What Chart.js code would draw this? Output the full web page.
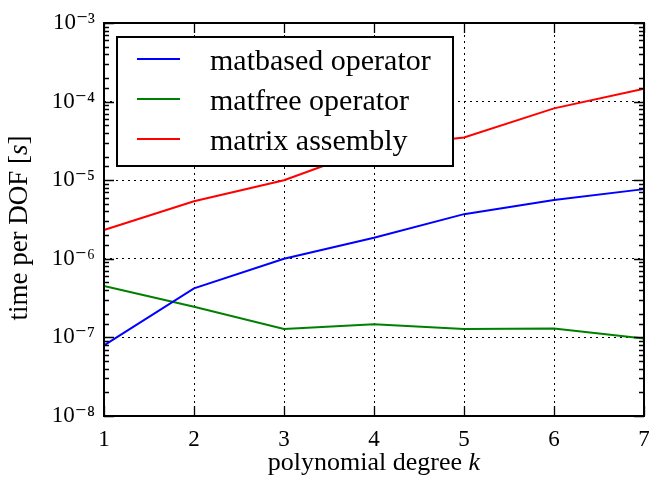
<!DOCTYPE html>
<html><head><meta charset="utf-8">
<script src="https://cdn.jsdelivr.net/npm/chart.js@4"></script>
<style>html,body{margin:0;padding:0;background:#fff}</style>
</head><body>
<canvas id="c" width="649" height="480"></canvas>
<script>
const degrees = ['1', '2', '3', '4', '5', '6', '7'];
const matbased = [7.9e-8, 4.2e-7, 1.0e-6, 1.85e-6, 3.7e-6, 5.6e-6, 7.7e-6];
const matfree = [4.5e-7, 2.45e-7, 1.28e-7, 1.47e-7, 1.28e-7, 1.3e-7, 9.7e-8];
const assembly = [2.33e-6, 5.4e-6, 1.0e-5, 2.6e-5, 3.5e-5, 8.2e-5, 1.46e-4];
const seriesNames = ['matbased operator', 'matfree operator', 'matrix assembly'];
const seriesColors = ['#0000ff', '#008000', '#ff0000'];
const yMin = 1e-8, yMax = 1e-3;
const xTitleParts = [['polynomial degree ', false], ['k', true]];
const yTitleParts = [['time per DOF [', false], ['s', true], [']', false]];

const FONT = '"Liberation Serif", "DejaVu Serif", serif';
const SUP = {'-': '\u207B', '0': '\u2070', '1': '\u00B9', '2': '\u00B2', '3': '\u00B3', '4': '\u2074', '5': '\u2075', '6': '\u2076', '7': '\u2077', '8': '\u2078', '9': '\u2079'};
function sup(n) { return String(n).split('').map(c => SUP[c]).join(''); }
function isDecade(v) { const e = Math.log10(v); return Math.abs(e - Math.round(e)) < 1e-6; }

function drawParts(ctx, parts, size) {
  let w = 0;
  parts.forEach(p => { ctx.font = (p[1] ? 'italic ' : '') + size + 'px ' + FONT; w += ctx.measureText(p[0]).width; });
  let x = -w / 2;
  parts.forEach(p => { ctx.font = (p[1] ? 'italic ' : '') + size + 'px ' + FONT; ctx.fillText(p[0], x, 0); x += ctx.measureText(p[0]).width; });
}

const framePlugin = {
  id: 'frame',
  afterDraw(chart) {
    const ctx = chart.ctx, a = chart.chartArea;
    const xs = chart.scales.x, ys = chart.scales.y;
    ctx.save();
    ctx.strokeStyle = '#000';
    // inward ticks on all four sides
    ctx.lineWidth = 1.3;
    ctx.beginPath();
    ys.ticks.forEach(t => {
      const p = Math.round(ys.getPixelForValue(t.value)) + 0.5;
      const len = isDecade(t.value) ? 10 : 5;
      ctx.moveTo(a.left, p); ctx.lineTo(a.left + len, p);
      ctx.moveTo(a.right, p); ctx.lineTo(a.right - len, p);
    });
    degrees.forEach((d, i) => {
      const p = Math.round(xs.getPixelForValue(i)) + 0.5;
      ctx.moveTo(p, a.bottom); ctx.lineTo(p, a.bottom - 10);
      ctx.moveTo(p, a.top); ctx.lineTo(p, a.top + 10);
    });
    ctx.stroke();
    // frame
    ctx.lineWidth = 2;
    ctx.strokeRect(a.left, a.top, a.right - a.left, a.bottom - a.top);
    // legend
    const lx = 117, ly = 37, lw = 336, lh = 129;
    ctx.fillStyle = '#fff';
    ctx.fillRect(lx, ly, lw, lh);
    ctx.lineWidth = 2;
    ctx.strokeRect(lx, ly, lw, lh);
    chart.data.datasets.forEach((ds, i) => {
      const ry = 59 + i * 40;
      ctx.strokeStyle = ds.borderColor;
      ctx.lineWidth = 2;
      ctx.beginPath(); ctx.moveTo(137, ry); ctx.lineTo(180, ry); ctx.stroke();
      ctx.fillStyle = '#000';
      ctx.font = '30px ' + FONT;
      ctx.textBaseline = 'alphabetic';
      ctx.textAlign = 'left';
      ctx.fillText(ds.label, 210, ry + 11);
    });
    // axis titles
    ctx.fillStyle = '#000';
    ctx.textBaseline = 'alphabetic';
    ctx.textAlign = 'left';
    ctx.save();
    ctx.translate((a.left + a.right) / 2, 470);
    drawParts(ctx, xTitleParts, 26);
    ctx.restore();
    ctx.save();
    ctx.translate(27, 228);
    ctx.rotate(-Math.PI / 2);
    drawParts(ctx, yTitleParts, 27);
    ctx.restore();
    ctx.restore();
  }
};

const mk = (label, data, color) => ({
  label, data, borderColor: color, backgroundColor: color,
  borderWidth: 2, pointRadius: 0, tension: 0, fill: false
});

new Chart(document.getElementById('c'), {
  type: 'line',
  data: {
    labels: degrees,
    datasets: [
      mk(seriesNames[0], matbased, seriesColors[0]),
      mk(seriesNames[1], matfree, seriesColors[1]),
      mk(seriesNames[2], assembly, seriesColors[2])
    ]
  },
  options: {
    responsive: false,
    animation: false,
    devicePixelRatio: 1,
    layout: { padding: { top: 23, right: 5, left: 0, bottom: 0 } },
    plugins: { legend: { display: false }, tooltip: { enabled: false } },
    scales: {
      x: {
        type: 'category',
        offset: false,
        grid: {
          offset: false,
          drawTicks: false,
          lineWidth: 1,
          color: (c) => (c.index > 0 && c.index < degrees.length - 1) ? '#000' : 'rgba(0,0,0,0)'
        },
        border: { display: false, dash: [2, 4] },
        ticks: { color: '#000', font: { family: FONT, size: 23 }, padding: 10, maxRotation: 0, autoSkip: false },
        afterFit: (s) => { s.height = 64; s.paddingLeft = 0; s.paddingRight = 0; }
      },
      y: {
        type: 'logarithmic',
        min: yMin,
        max: yMax,
        grid: {
          drawTicks: false,
          lineWidth: 1,
          color: (c) => (c.tick && isDecade(c.tick.value) && c.tick.value > yMin * 1.01 && c.tick.value < yMax * 0.99) ? '#000' : 'rgba(0,0,0,0)'
        },
        border: { display: false, dash: [2, 4] },
        ticks: {
          color: '#000', font: { family: FONT, size: 23 }, padding: 9, autoSkip: false,
          callback: (v) => isDecade(v) ? '10' + sup(Math.round(Math.log10(v))) : ''
        },
        afterFit: (s) => { s.width = 104; s.paddingTop = 0; s.paddingBottom = 0; }
      }
    }
  },
  plugins: [framePlugin]
});
</script>
</body></html>
